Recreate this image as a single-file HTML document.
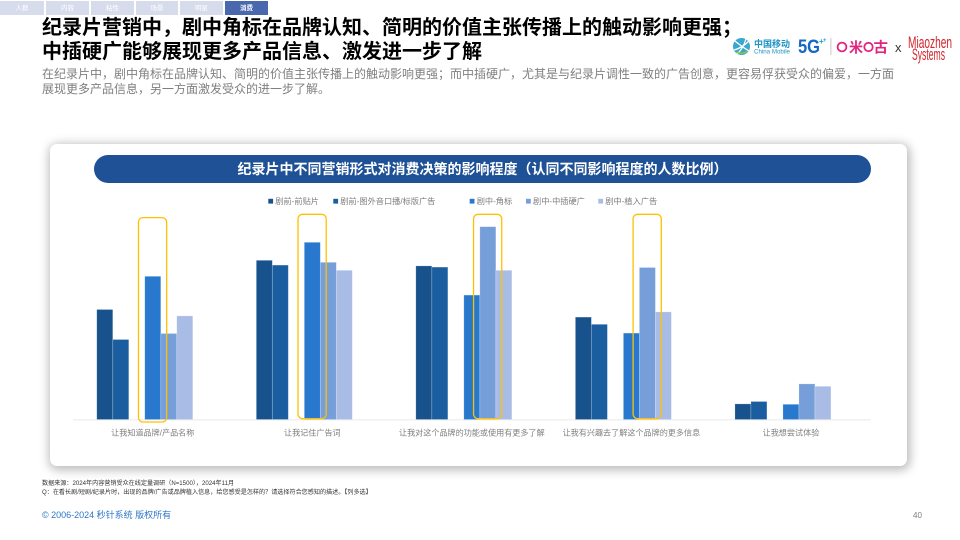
<!DOCTYPE html>
<html lang="zh-CN">
<head>
<meta charset="utf-8">
<title>纪录片营销</title>
<style>
html,body{margin:0;padding:0;background:#fff;}
body{width:960px;height:540px;position:relative;overflow:hidden;font-family:"Liberation Sans","Noto Sans CJK SC",sans-serif;}
.abs{position:absolute;white-space:nowrap;}
.tab{position:absolute;top:1px;height:14px;background:#d6dcec;color:#fff;font-size:6.5px;line-height:15px;text-align:center;}
.tab.on{background:#4a68ae;font-weight:bold;}
#chart{position:absolute;left:0;top:0;}
</style>
</head>
<body>
<div class="tab" style="left:0;width:44px">人群</div>
<div class="tab" style="left:46px;width:43px">内容</div>
<div class="tab" style="left:91px;width:43px">粘性</div>
<div class="tab" style="left:136px;width:42px">场景</div>
<div class="tab" style="left:180px;width:43px">明星</div>
<div class="tab on" style="left:225px;width:43px">消费</div>

<div class="abs" style="left:42px;top:16px;font-size:20px;line-height:24px;font-weight:bold;color:#000">纪录片营销中，剧中角标在品牌认知、简明的价值主张传播上的触动影响更强；<br>中插硬广能够展现更多产品信息、激发进一步了解</div>
<div class="abs" style="left:42px;top:67px;font-size:12px;line-height:14.5px;color:#7f7f7f">在纪录片中，剧中角标在品牌认知、简明的价值主张传播上的触动影响更强；而中插硬广，尤其是与纪录片调性一致的广告创意，更容易俘获受众的偏爱，一方面<br>展现更多产品信息，另一方面激发受众的进一步了解。</div>

<svg class="abs" style="left:725px;top:30px" width="235" height="38" viewBox="725 30 235 38">
  <g>
    <circle cx="741.5" cy="46.5" r="8.5" fill="#3ba6cf"/>
    <path d="M734 50 Q742 48 749 41 M735 41 Q741 46 749 51 M737 54 Q743 49 746 39" fill="none" stroke="#fff" stroke-width="1.3"/>
    <path d="M736 52 Q742 55 748 51" fill="none" stroke="#8cc63f" stroke-width="1.4"/>
    <text x="754" y="47" font-size="9" font-weight="bold" fill="#1d93c4">中国移动</text>
    <text x="754" y="53.5" font-size="6" fill="#1d93c4" textLength="36" lengthAdjust="spacingAndGlyphs">China Mobile</text>
  </g>
  <g>
    <text x="798" y="53" font-size="19" font-weight="bold" fill="#1668c0" textLength="22" lengthAdjust="spacingAndGlyphs">5G</text>
    <text x="819" y="44" font-size="8" font-weight="bold" fill="#1aa0d8">+</text>
    <text x="823" y="42" font-size="6" font-weight="bold" fill="#1aa0d8">+</text>
  </g>
  <rect x="830.5" y="38" width="0.8" height="17" fill="#bbb"/>
  <g>
    <circle cx="842" cy="47" r="4.4" fill="none" stroke="#e0267f" stroke-width="1.8"/>
    <text x="849" y="52.5" font-size="14" font-weight="bold" fill="#e0267f">米</text>
    <circle cx="868.5" cy="47" r="4.2" fill="none" stroke="#e0267f" stroke-width="1.8"/>
    <text x="873.5" y="52.5" font-size="14.5" font-weight="bold" fill="#e0267f">古</text>
  </g>
  <text x="895" y="52" font-size="13" fill="#333">x</text>
  <text x="908" y="48" font-size="17" fill="#d2232a" textLength="44" lengthAdjust="spacingAndGlyphs">Miaozhen</text>
  <text x="912" y="60" font-size="17" fill="#d2232a" textLength="33" lengthAdjust="spacingAndGlyphs">Systems</text>
</svg>

<div class="abs" style="left:50px;top:144px;width:857px;height:322px;background:#fff;border-radius:7px;box-shadow:1px 2px 10px 2px rgba(0,0,0,.28)"></div>
<div class="abs" style="left:94px;top:155px;width:777px;height:28px;border-radius:14px;background:#1f5197;color:#fff;font-size:14px;font-weight:bold;line-height:28px;text-align:center">纪录片中不同营销形式对消费决策的影响程度（认同不同影响程度的人数比例）</div>

<svg id="chart" width="960" height="540"></svg>

<div class="abs" style="left:42px;top:479px;font-size:6.1px;line-height:9px;color:#333">数据来源：2024年内容营销受众在线定量调研（N=1500），2024年11月<br>Q：在看长剧/短剧/纪录片时，出现的品牌/广告或品牌植入信息，给您感受是怎样的？请选择符合您感知的描述。【列多选】</div>
<div class="abs" style="left:42px;top:509px;font-size:9px;line-height:13px;color:#2e75c8">© 2006-2024 秒针系统 版权所有</div>
<div class="abs" style="left:913px;top:510px;font-size:8px;line-height:12px;color:#7f7f7f">40</div>

<script>
const categories = ["让我知道品牌/产品名称","让我记住广告词","让我对这个品牌的功能或使用有更多了解","让我有兴趣去了解这个品牌的更多信息","让我想尝试体验"];
const seriesNames = ["剧前-前贴片","剧前-图外音口播/标版广告","","剧中-角标","剧中-中插硬广","剧中-植入广告"];
const preRoll = [27.5, 39.8, 38.4, 25.6, 3.9];
const voiceOver = [20.0, 38.6, 38.1, 23.8, 4.5];
const cornerLogo = [35.8, 44.3, 31.1, 21.6, 3.8];
const midRoll = [21.5, 39.3, 48.2, 38.0, 8.9];
const placement = [25.9, 37.3, 37.3, 26.9, 8.3];
const seriesValues = [preRoll, voiceOver, null, cornerLogo, midRoll, placement];
const seriesColors = ["#17528c","#1b5e9f","none","#2878ce","#769ed9","#a9bce6"];
const highlightedSeries = [3, 3, 4, 4];

const svg = document.getElementById('chart');
const NS = 'http://www.w3.org/2000/svg';
const axisLeft = 73, axisRight = 870.7, baseY = 419.5, plotTop = 219.5, yMax = 50;
const slotCount = 7, slotW = 16;
const bandW = (axisRight - axisLeft) / categories.length;
function xBand(i){ return axisLeft + bandW * i + (bandW - slotCount * slotW) / 2; }
function xBar(i, s){ return xBand(i) + s * slotW; }
function yVal(v){ return baseY - (baseY - plotTop) * v / yMax; }
function make(tag){ const el = document.createElementNS(NS, tag); svg.appendChild(el); return el; }

const axisLine = make('line');


axisLine.setAttribute('x1', axisLeft);
axisLine.setAttribute('x2', axisRight);
axisLine.setAttribute('y1', baseY + 0.3);
axisLine.setAttribute('y2', baseY + 0.3);
axisLine.setAttribute('stroke', '#e6e6e6');
axisLine.setAttribute('stroke-width', '0.8');

seriesValues.forEach(function(vals, s){
  if (!vals) return;
  vals.forEach(function(v, i){
    const r = make('rect');
    
    
    r.setAttribute('x', xBar(i, s));
    r.setAttribute('y', yVal(v));
    r.setAttribute('width', slotW);
    r.setAttribute('height', baseY - yVal(v));
    r.setAttribute('fill', seriesColors[s]);
    r.setAttribute('stroke', 'rgba(255,255,255,0.3)');
    r.setAttribute('stroke-width', '0.7');
  });
});

categories.forEach(function(c, i){
  const t = make('text');
  
  
  t.setAttribute('x', axisLeft + bandW * (i + 0.5));
  t.setAttribute('y', 435.5);
  t.setAttribute('text-anchor', 'middle');
  t.setAttribute('font-size', '8.1');
  t.setAttribute('fill', '#7f7f7f');
  t.textContent = c;
});

highlightedSeries.forEach(function(s, i){
  const r = make('rect');
  
  
  r.setAttribute('x', xBar(i, s) - 6.3);
  r.setAttribute('y', i === 0 ? 217.6 : 214.3);
  r.setAttribute('width', 28.2);
  r.setAttribute('height', 204.4);
  r.setAttribute('rx', 4.5);
  r.setAttribute('fill', 'none');
  r.setAttribute('stroke', '#ffc000');
  r.setAttribute('stroke-width', '1.3');
});

const legendX = [268.3, 333.3, 0, 469.7, 526, 598.3];
seriesNames.forEach(function(name, s){
  if (!name) return;
  const k = make('rect');
  
  
  k.setAttribute('x', legendX[s]);
  k.setAttribute('y', 198.8);
  k.setAttribute('width', 4.8);
  k.setAttribute('height', 4.8);
  k.setAttribute('fill', seriesColors[s]);
  const t = make('text');
  
  
  t.setAttribute('x', legendX[s] + 7);
  t.setAttribute('y', 204);
  t.setAttribute('font-size', '8.2');
  t.setAttribute('fill', '#7f7f7f');
  t.textContent = name;
});
</script>
</body>
</html>
